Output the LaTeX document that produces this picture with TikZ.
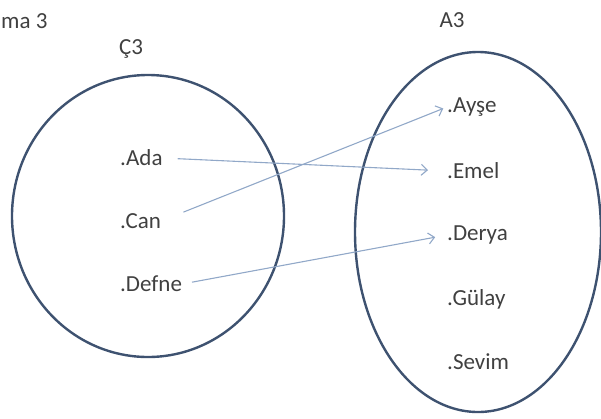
\documentclass[tikz,border=0pt]{standalone}
\usepackage{fontspec}
\setmainfont{Carlito}
\usetikzlibrary{positioning, arrows.meta}

\begin{document}
\begin{tikzpicture}[
  x=1pt, y=-1pt,
  every node/.style={font=\fontsize{23}{27}\selectfont, text=black!75, inner sep=0pt},
  member/.style={anchor=west},
  setline/.style={draw={rgb,255:red,62;green,82;blue,112}, line width=2.4pt},
  maparrow/.style={draw={rgb,255:red,145;green,168;blue,200}, line width=1.1pt,
    -{Straight Barb[length=6pt,width=11pt]}}
]
\useasboundingbox (0,0) rectangle (601,418);

% the two sets
\draw[setline] (148,216) ellipse [x radius=136, y radius=141];
\draw[setline] (478,232) ellipse [x radius=123, y radius=180];

\node[anchor=west] (title) at (1,21) {ma 3};
\node (c3) at (131,49) {Ç3};
\node (a3) at (452,20) {A3};

% left set
\node[member] (ada) at (120,158) {.Ada};
\node[member] (can) at (120,221) {.Can};
\node[member] (defne) at (120,284) {.Defne};

% right set
\node[member] (ayse) at (447,107) {.Ayşe};
\node[member] (emel) at (447,171) {.Emel};
\node[member] (derya) at (447,235) {.Derya};
\node[member] (gulay) at (447,299) {.Gülay};
\node[member] (sevim) at (447,362) {.Sevim};

\draw[maparrow, shorten <=15pt, shorten >=19pt] (ada.east) -- (emel.west);
\draw[maparrow, shorten <=24pt, shorten >=4pt] (can.east) -- (ayse.west);
\draw[maparrow, shorten <=10pt, shorten >=12pt] (defne.east) -- (derya.west);

\end{tikzpicture}
\end{document}
